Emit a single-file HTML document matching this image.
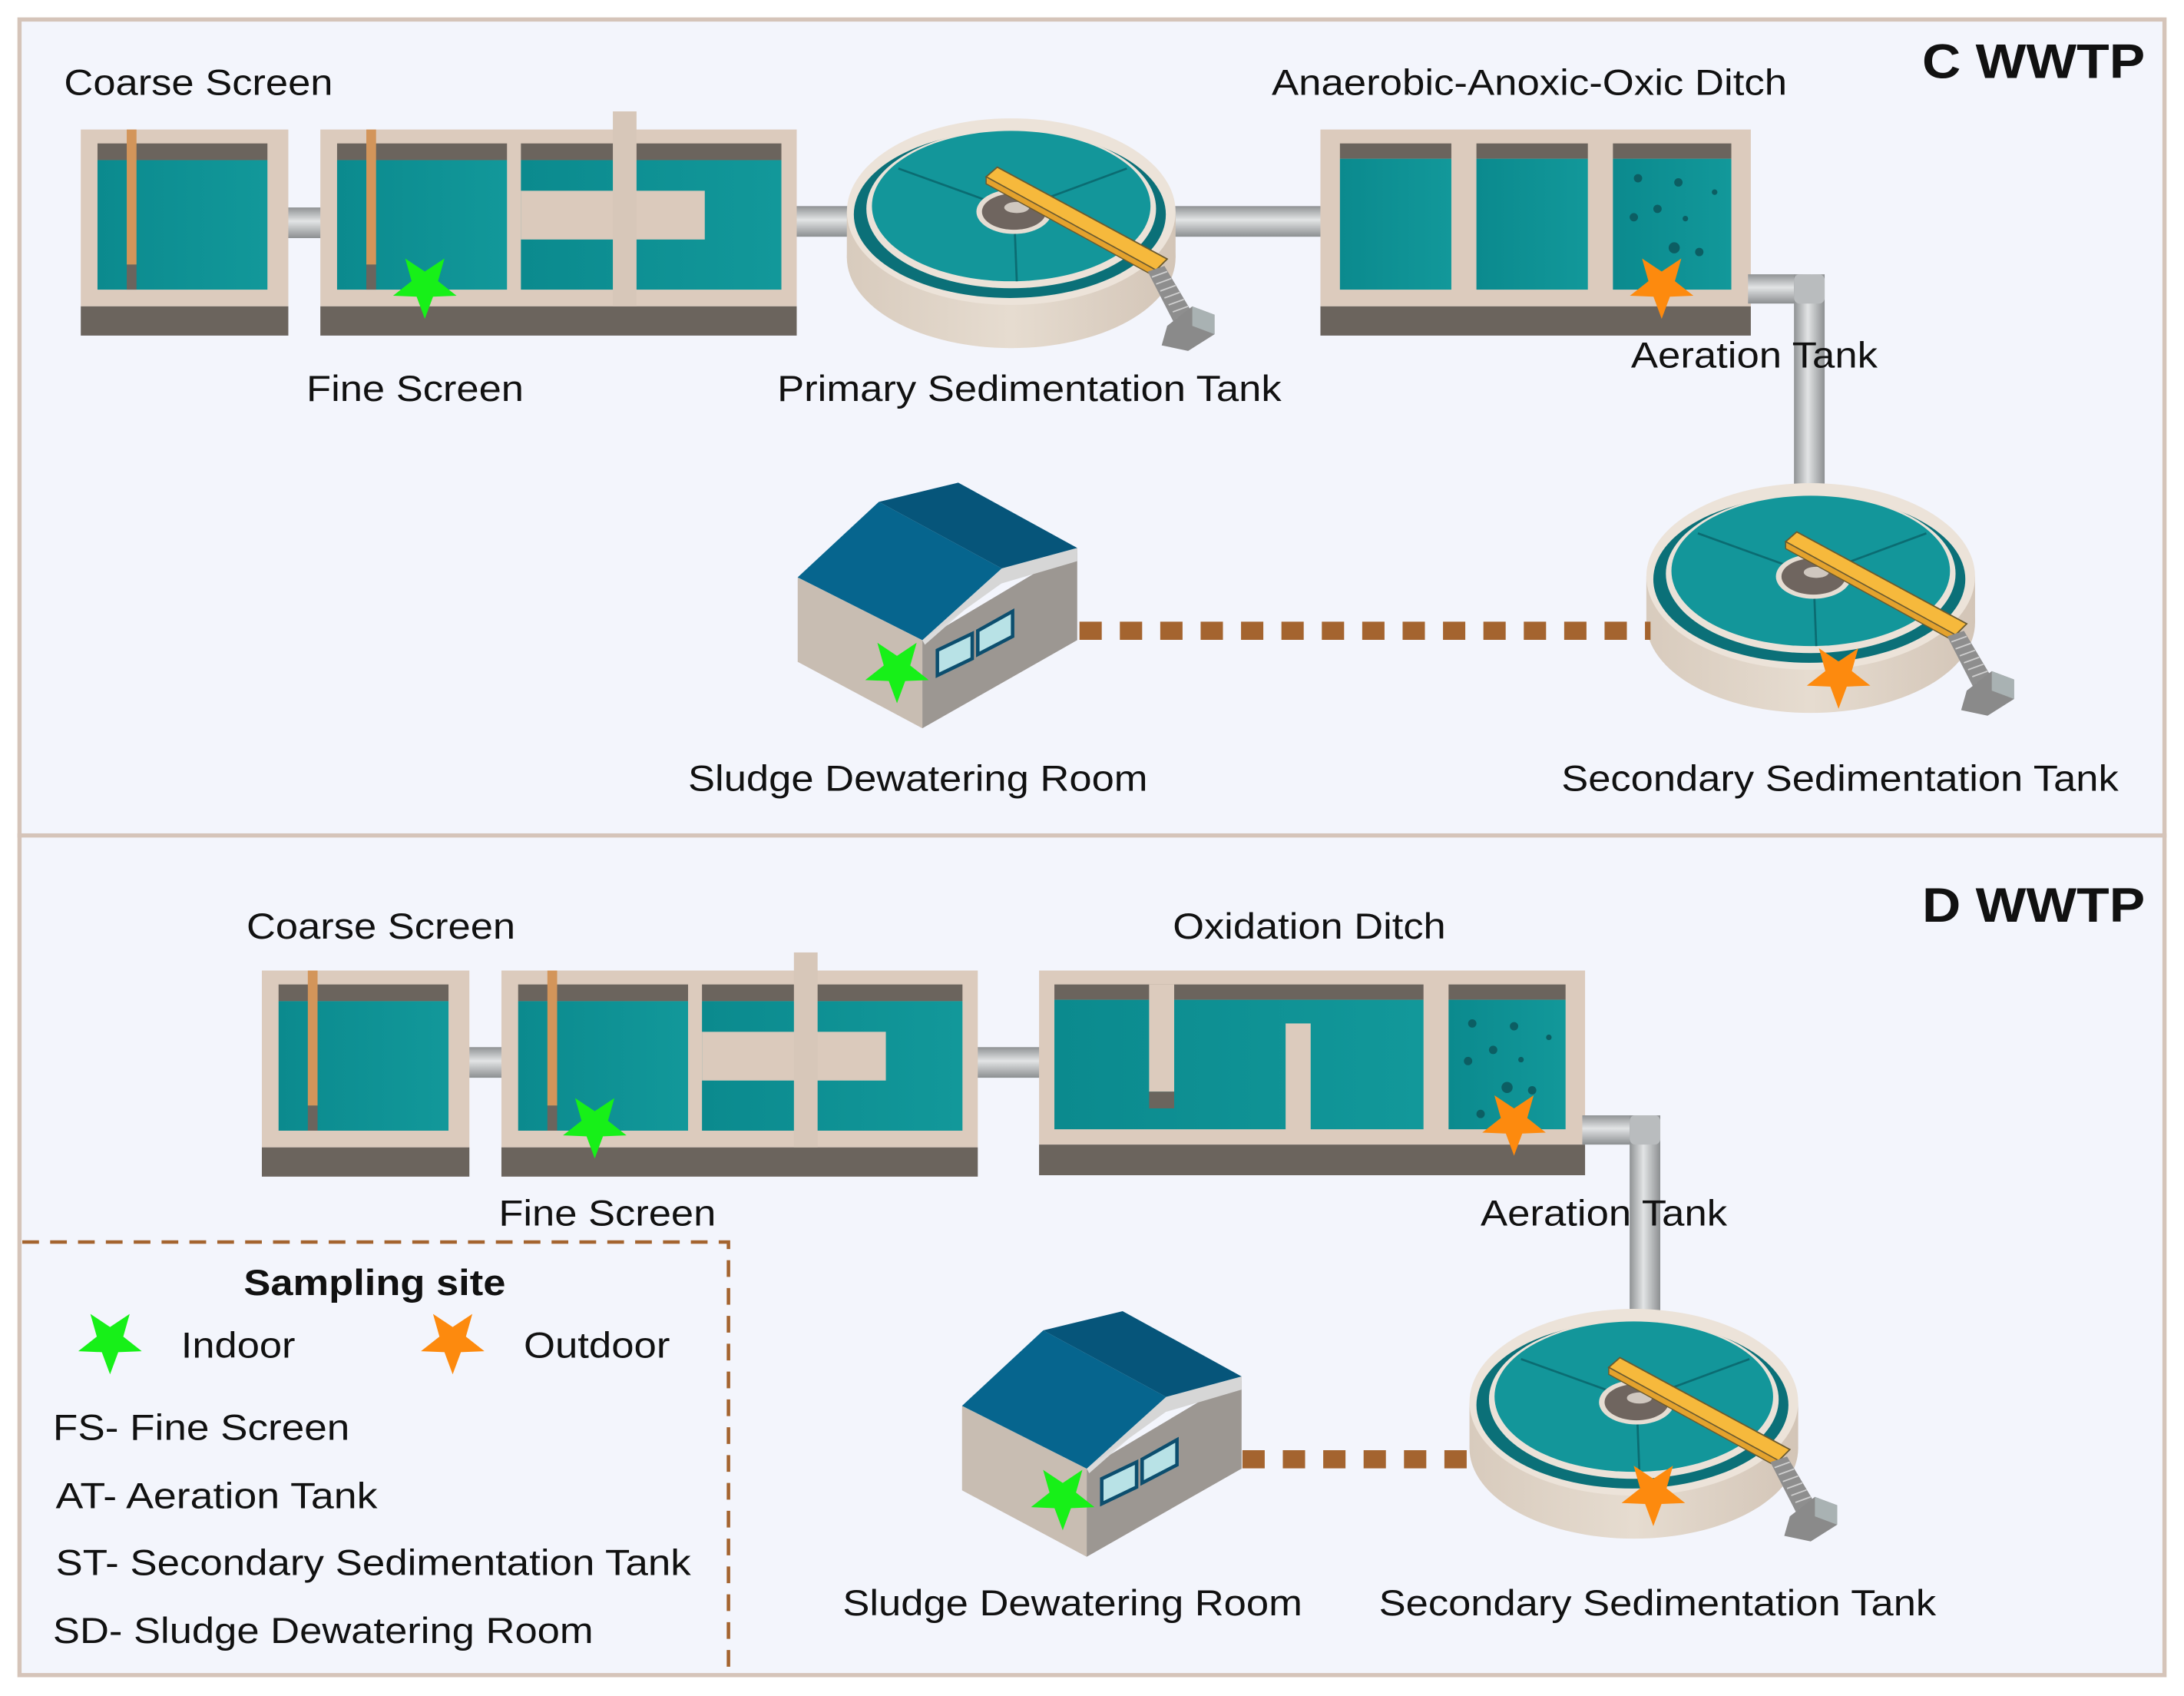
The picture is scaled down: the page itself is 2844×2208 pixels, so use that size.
<!DOCTYPE html>
<html><head><meta charset="utf-8"><style>
html,body{margin:0;padding:0;background:#fff;}
svg{display:block;}
text{font-family:"Liberation Sans",Arial,sans-serif;fill:#111;}
</style></head><body>
<svg width="2844" height="2208" viewBox="0 0 1568 1218" preserveAspectRatio="none" xmlns="http://www.w3.org/2000/svg">
<defs>
<linearGradient id="ph" x1="0" y1="0" x2="0" y2="1"><stop offset="0" stop-color="#8f9294"/><stop offset="0.45" stop-color="#e2e4e5"/><stop offset="1" stop-color="#8c8f91"/></linearGradient>
<linearGradient id="pv" x1="0" y1="0" x2="1" y2="0"><stop offset="0" stop-color="#8f9294"/><stop offset="0.45" stop-color="#e2e4e5"/><stop offset="1" stop-color="#8c8f91"/></linearGradient>
<linearGradient id="wat" x1="0" y1="0" x2="1" y2="0"><stop offset="0" stop-color="#0b8a8e"/><stop offset="1" stop-color="#12989a"/></linearGradient>
<linearGradient id="body" x1="0" y1="0" x2="1" y2="0"><stop offset="0" stop-color="#d8cbbd"/><stop offset="0.5" stop-color="#e6dcd0"/><stop offset="1" stop-color="#d3c5b7"/></linearGradient>
<polygon id="star" points="0,24 -5.9,8.1 -22.8,7.4 -9.5,-3.1 -14.1,-19.4 0,-10 14.1,-19.4 9.5,-3.1 22.8,7.4 5.9,8.1"/>
<g id="coarse">
 <rect x="58" y="93" width="149" height="127" fill="#dccbbd"/>
 <rect x="58" y="220" width="149" height="21" fill="#6b645d"/>
 <rect x="70" y="103" width="122" height="12" fill="#6b645d"/>
 <rect x="70" y="115" width="122" height="93" fill="url(#wat)"/>
 <rect x="91" y="93" width="7" height="97" fill="#d3955a"/>
 <rect x="91" y="190" width="7" height="18" fill="#6b645d"/>
</g>
<g id="fine">
 <rect x="230" y="93" width="342" height="127" fill="#dccbbd"/>
 <rect x="230" y="220" width="342" height="21" fill="#6b645d"/>
 <rect x="242" y="103" width="122" height="12" fill="#6b645d"/>
 <rect x="242" y="115" width="122" height="93" fill="url(#wat)"/>
 <rect x="263" y="93" width="7" height="97" fill="#d3955a"/>
 <rect x="263" y="190" width="7" height="18" fill="#6b645d"/>
 <rect x="374" y="103" width="187" height="12" fill="#6b645d"/>
 <rect x="374" y="115" width="187" height="93" fill="url(#wat)"/>
 <rect x="374" y="137" width="132" height="35" fill="#dbcabc"/>
 <rect x="440" y="80" width="17" height="140" fill="#d7c7b9"/>
</g>
<g id="tank">
 <rect x="-118" y="4" width="236" height="33" fill="url(#body)"/>
 <ellipse cx="0" cy="37" rx="118" ry="65" fill="url(#body)"/>
 <ellipse cx="0" cy="4" rx="118" ry="67" fill="#ece3d9"/>
 <ellipse cx="-1" cy="6" rx="112" ry="60" fill="#0b7078"/>
 <ellipse cx="0" cy="2" rx="104" ry="57" fill="#ebe2d8"/>
 <ellipse cx="0" cy="0" rx="100" ry="54" fill="#13969a"/>
 <path d="M2,3 L-81,-27 M2,3 L83,-27 M2,3 L4,54" stroke="#0b6c72" stroke-width="1.5"/>
 <ellipse cx="2" cy="4" rx="27" ry="16" fill="#e6ddd3"/>
 <ellipse cx="2" cy="4" rx="23" ry="13" fill="#6f655f"/>
 <ellipse cx="4" cy="1" rx="9" ry="4" fill="#cfc7bf"/>
 <polygon points="-18,-21 -10,-28 112,38 104,46" fill="#f6b93c" stroke="#6a5a30" stroke-width="1"/>
 <polygon points="-18,-21 104,46 104,51 -18,-16" fill="#e4a22d" stroke="#6a5a30" stroke-width="0.8"/>
 <polygon points="98,47 110,43 132,80 118,86" fill="#8e8e8e"/>
 <path d="M101,51 L112,47 M104,56 L115,52 M107,61 L118,57 M110,66 L121,62 M113,71 L124,67 M116,76 L127,72 M119,81 L130,77" stroke="#cfcfcf" stroke-width="1"/>
 <polygon points="112,86 130,72 146,78 146,92 127,104 108,100" fill="#8a8a8a"/>
 <polygon points="130,72 146,78 146,92 130,86" fill="#a9b2b3"/>
</g>
<g id="house">
 <polygon points="21.7,83.6 111.2,128.7 111.2,192 21.7,144.3" fill="#c8bdb2"/>
 <polygon points="111.2,128.7 222.4,62.5 222.4,128.7 111.2,192" fill="#9c9792"/>
 <polygon points="111.2,128.7 168.2,77.2 222.4,62.5 222.4,66 170,82 113,132" fill="#dcdcdc"/>
 <polygon points="111.2,128.7 168.2,77.2 222.4,62.5 222.4,72 168,88" fill="#d6d6d6"/>
 <polygon points="21.7,83.6 80,29.4 168.2,77.2 111.2,128.7" fill="#06658e"/>
 <polygon points="80,29.4 137,15.6 222.4,62.5 168.2,77.2" fill="#06557a"/>
 <polygon points="122,136 147,124 147,142 122,154" fill="#b8e2e6" stroke="#0c4e6e" stroke-width="2.5"/>
 <polygon points="151,122 176,108 176,126 151,139" fill="#b8e2e6" stroke="#0c4e6e" stroke-width="2.5"/>
</g>
</defs>

<rect x="0" y="0" width="1568" height="1218" fill="#fff"/>
<rect x="14" y="14" width="1540" height="586" fill="#f3f5fc" stroke="#d5c4b9" stroke-width="3"/>
<rect x="14" y="600" width="1540" height="603" fill="#f3f5fc" stroke="#d5c4b9" stroke-width="3"/>

<!-- ===== C WWTP ===== -->
<rect x="205" y="149" width="27" height="22" fill="url(#ph)"/>
<rect x="570" y="148" width="45" height="22" fill="url(#ph)"/>
<rect x="838" y="148" width="112" height="22" fill="url(#ph)"/>
<use href="#coarse"/>
<use href="#fine"/>
<use href="#tank" transform="translate(726,148)"/>
<rect x="948" y="93" width="309" height="127" fill="#dccbbd"/>
<rect x="948" y="220" width="309" height="21" fill="#6b645d"/>
<g fill="#6b645d"><rect x="962" y="103" width="80" height="11"/><rect x="1060" y="103" width="80" height="11"/><rect x="1158" y="103" width="85" height="11"/></g>
<g fill="url(#wat)"><rect x="962" y="114" width="80" height="94"/><rect x="1060" y="114" width="80" height="94"/><rect x="1158" y="114" width="85" height="94"/></g>
<g fill="#0c5e63"><circle cx="1176" cy="128" r="3"/><circle cx="1205" cy="131" r="3"/><circle cx="1231" cy="138" r="2"/><circle cx="1190" cy="150" r="3"/><circle cx="1173" cy="156" r="3"/><circle cx="1210" cy="157" r="2"/><circle cx="1202" cy="178" r="4"/><circle cx="1220" cy="181" r="3"/></g>
<rect x="1255" y="197" width="45" height="21" fill="url(#ph)"/>
<rect x="1288" y="197" width="22" height="155" fill="url(#pv)"/>
<rect x="1288" y="197" width="22" height="21" rx="4" fill="#b9bcbe"/>
<use href="#tank" transform="translate(1300,410)"/>
<line x1="775" y1="453" x2="1185" y2="453" stroke="#a4642f" stroke-width="13" stroke-dasharray="16,13"/>
<use href="#house" transform="translate(551,331)"/>
<use href="#star" transform="translate(305,205)" fill="#17f018"/>
<use href="#star" transform="translate(1193,205)" fill="#fd8a0e"/>
<use href="#star" transform="translate(644,481)" fill="#17f018"/>
<use href="#star" transform="translate(1320,485)" fill="#fd8a0e"/>
<g font-size="26">
<text x="46" y="68" textLength="193" lengthAdjust="spacingAndGlyphs">Coarse Screen</text>
<text x="220" y="288" textLength="156" lengthAdjust="spacingAndGlyphs">Fine Screen</text>
<text x="558" y="288" textLength="362" lengthAdjust="spacingAndGlyphs">Primary Sedimentation Tank</text>
<text x="913" y="68" textLength="370" lengthAdjust="spacingAndGlyphs">Anaerobic-Anoxic-Oxic Ditch</text>
<text x="1171" y="264" textLength="177" lengthAdjust="spacingAndGlyphs">Aeration Tank</text>
<text x="494" y="568" textLength="330" lengthAdjust="spacingAndGlyphs">Sludge Dewatering Room</text>
<text x="1121" y="568" textLength="400" lengthAdjust="spacingAndGlyphs">Secondary Sedimentation Tank</text>
</g>
<text x="1380" y="56" font-size="35" font-weight="bold" textLength="160" lengthAdjust="spacingAndGlyphs">C WWTP</text>

<!-- ===== D WWTP ===== -->
<rect x="334" y="752" width="28" height="22" fill="url(#ph)"/>
<rect x="700" y="752" width="48" height="22" fill="url(#ph)"/>
<use href="#coarse" transform="translate(130,604)"/>
<use href="#fine" transform="translate(130,604)"/>
<rect x="746" y="697" width="392" height="125" fill="#dccbbd"/>
<rect x="746" y="822" width="392" height="22" fill="#6b645d"/>
<rect x="757" y="707" width="265" height="11" fill="#6b645d"/>
<rect x="757" y="718" width="265" height="93" fill="url(#wat)"/>
<rect x="1040" y="707" width="84" height="11" fill="#6b645d"/>
<rect x="1040" y="718" width="84" height="93" fill="url(#wat)"/>
<rect x="825" y="707" width="18" height="77" fill="#dccbbd"/>
<rect x="825" y="784" width="18" height="12" fill="#6b645d"/>
<rect x="923" y="735" width="18" height="77" fill="#dccbbd"/>
<g fill="#0c5e63"><circle cx="1057" cy="735" r="3"/><circle cx="1087" cy="737" r="3"/><circle cx="1112" cy="745" r="2"/><circle cx="1072" cy="754" r="3"/><circle cx="1054" cy="762" r="3"/><circle cx="1092" cy="761" r="2"/><circle cx="1082" cy="781" r="4"/><circle cx="1100" cy="783" r="3"/><circle cx="1063" cy="800" r="3"/></g>
<rect x="1136" y="801" width="50" height="21" fill="url(#ph)"/>
<rect x="1170" y="801" width="22" height="145" fill="url(#pv)"/>
<rect x="1170" y="801" width="22" height="21" rx="4" fill="#b9bcbe"/>
<use href="#tank" transform="translate(1173,1003)"/>
<line x1="892" y1="1048" x2="1055" y2="1048" stroke="#a4642f" stroke-width="13" stroke-dasharray="16,13"/>
<use href="#house" transform="translate(669,926)"/>
<use href="#star" transform="translate(427,808)" fill="#17f018"/>
<use href="#star" transform="translate(1087,806)" fill="#fd8a0e"/>
<use href="#star" transform="translate(763,1075)" fill="#17f018"/>
<use href="#star" transform="translate(1187,1072)" fill="#fd8a0e"/>
<g font-size="26">
<text x="177" y="674" textLength="193" lengthAdjust="spacingAndGlyphs">Coarse Screen</text>
<text x="842" y="674" textLength="196" lengthAdjust="spacingAndGlyphs">Oxidation Ditch</text>
<text x="358" y="880" textLength="156" lengthAdjust="spacingAndGlyphs">Fine Screen</text>
<text x="1063" y="880" textLength="177" lengthAdjust="spacingAndGlyphs">Aeration Tank</text>
<text x="605" y="1160" textLength="330" lengthAdjust="spacingAndGlyphs">Sludge Dewatering Room</text>
<text x="990" y="1160" textLength="400" lengthAdjust="spacingAndGlyphs">Secondary Sedimentation Tank</text>
</g>
<text x="1380" y="662" font-size="35" font-weight="bold" textLength="160" lengthAdjust="spacingAndGlyphs">D WWTP</text>

<path d="M16,892 L523,892 L523,1202" fill="none" stroke="#a4642f" stroke-width="2.5" stroke-dasharray="12,8"/>
<text x="175" y="930" font-size="26" font-weight="bold" textLength="188" lengthAdjust="spacingAndGlyphs">Sampling site</text>
<use href="#star" transform="translate(79,963)" fill="#17f018"/>
<use href="#star" transform="translate(325,963)" fill="#fd8a0e"/>
<g font-size="26">
<text x="130" y="975" textLength="82" lengthAdjust="spacingAndGlyphs">Indoor</text>
<text x="376" y="975" textLength="105" lengthAdjust="spacingAndGlyphs">Outdoor</text>
<text x="38" y="1034" textLength="213" lengthAdjust="spacingAndGlyphs">FS- Fine Screen</text>
<text x="40" y="1083" textLength="231" lengthAdjust="spacingAndGlyphs">AT- Aeration Tank</text>
<text x="40" y="1131" textLength="456" lengthAdjust="spacingAndGlyphs">ST- Secondary Sedimentation Tank</text>
<text x="38" y="1180" textLength="388" lengthAdjust="spacingAndGlyphs">SD- Sludge Dewatering Room</text>
</g>
</svg>
</body></html>
